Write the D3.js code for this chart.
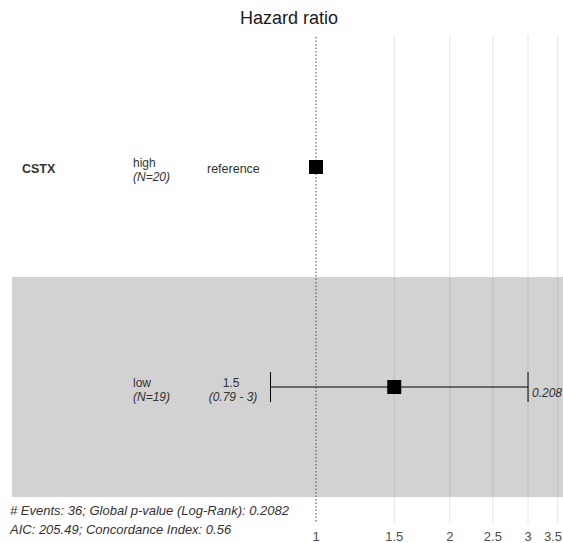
<!DOCTYPE html>
<html>
<head>
<meta charset="utf-8">
<script src="https://cdn.jsdelivr.net/npm/d3@7"></script>
<style>
  html, body { margin: 0; padding: 0; background: #fff; }
  svg { display: block; font-family: "Liberation Sans", Arial, sans-serif; }
</style>
</head>
<body>
<svg id="chart" width="563" height="543"></svg>
<script>
// Cox model forest plot: CSTX, low vs high
const variables = ["CSTX", ""];
const levels = ["high", "low"];
const counts = [20, 19];
const estimates = [1, 1.5];
const lowerCI = [null, 0.79];
const upperCI = [null, 3];
const estLabels = ["reference", "1.5"];
const ciLabels = ["", "(0.79 - 3)"];
const pLabels = ["", "0.208"];
const tickValues = [1, 1.5, 2, 2.5, 3, 3.5];
const footer = [
  "# Events: 36; Global p-value (Log-Rank): 0.2082",
  "AIC: 205.49; Concordance Index: 0.56"
];

const svg = d3.select("#chart");
const W = 563, H = 543;
const FS = 12;

// Log-scaled hazard-ratio axis
const x = d3.scaleLog().domain([1, Math.exp(1)]).range([316, 316 + 193]);
// Rows
const y = d3.scaleBand().domain(d3.range(levels.length)).range([57, 497]).paddingInner(0);

// Alternating row shading
svg.selectAll("rect.band")
  .data(d3.range(levels.length).filter(i => i % 2 === 1))
  .join("rect")
  .attr("class", "band")
  .attr("x", 12)
  .attr("width", W - 12)
  .attr("y", i => y(i))
  .attr("height", y.bandwidth())
  .attr("fill", "#d2d2d2");

// Vertical grid lines at the tick values (except the reference line)
svg.selectAll("line.grid")
  .data(tickValues.filter(v => v !== 1))
  .join("line")
  .attr("class", "grid")
  .attr("x1", d => x(d)).attr("x2", d => x(d))
  .attr("y1", 35).attr("y2", 523)
  .attr("stroke", "rgba(0,0,0,0.1)")
  .attr("stroke-width", 1);

// Dotted reference line at HR = 1
svg.append("line")
  .attr("x1", x(1)).attr("x2", x(1))
  .attr("y1", 37).attr("y2", 523)
  .attr("stroke", "#555")
  .attr("stroke-width", 1.1)
  .attr("stroke-dasharray", "1.5,2");

// Axis tick labels (kept inside the right edge)
svg.selectAll("text.tick")
  .data(tickValues)
  .join("text")
  .attr("class", "tick")
  .attr("x", d => x(d))
  .attr("y", 541)
  .attr("text-anchor", "middle")
  .attr("font-size", 13)
  .attr("fill", "#4d4d4d")
  .text(d => d)
  .each(function () {
    const b = this.getBBox();
    if (b.x + b.width > W - 1) {
      d3.select(this).attr("x", +d3.select(this).attr("x") - (b.x + b.width - (W - 1)));
    }
  });

// Title
svg.append("text")
  .attr("x", 289).attr("y", 24)
  .attr("text-anchor", "middle")
  .attr("font-size", 18)
  .attr("fill", "#1a1a1a")
  .text("Hazard ratio");

// Confidence intervals
const rows = d3.range(levels.length);
rows.filter(i => lowerCI[i] !== null).forEach(i => {
  const cy = y(i) + y.bandwidth() / 2;
  const g = svg.append("g");
  g.append("line")
    .attr("x1", x(lowerCI[i])).attr("x2", x(upperCI[i]))
    .attr("y1", cy).attr("y2", cy)
    .attr("stroke", "#000").attr("stroke-width", 1);
  [lowerCI[i], upperCI[i]].forEach(v => {
    g.append("line")
      .attr("x1", x(v)).attr("x2", x(v))
      .attr("y1", cy - 15).attr("y2", cy + 15)
      .attr("stroke", "#000").attr("stroke-width", 1);
  });
});

// Point estimates
svg.selectAll("rect.est")
  .data(rows)
  .join("rect")
  .attr("class", "est")
  .attr("x", i => x(estimates[i]) - 7)
  .attr("y", i => y(i) + y.bandwidth() / 2 - 7)
  .attr("width", 14).attr("height", 14)
  .attr("fill", "#000");

// Row text columns
rows.forEach(i => {
  const cy = y(i) + y.bandwidth() / 2;
  if (variables[i]) {
    svg.append("text")
      .attr("x", 22).attr("y", cy + 6)
      .attr("font-size", FS + 0.5).attr("font-weight", "bold")
      .attr("fill", "#333")
      .text(variables[i]);
  }
  svg.append("text")
    .attr("x", 133).attr("y", cy)
    .attr("font-size", FS).attr("fill", "#333")
    .text(levels[i]);
  svg.append("text")
    .attr("x", 133).attr("y", cy + 14)
    .attr("font-size", FS).attr("font-style", "italic").attr("fill", "#333")
    .text("(N=" + counts[i] + ")");
  if (ciLabels[i]) {
    svg.append("text")
      .attr("x", 231).attr("y", cy)
      .attr("text-anchor", "middle")
      .attr("font-size", FS).attr("fill", "#333")
      .text(estLabels[i]);
    svg.append("text")
      .attr("x", 233).attr("y", cy + 14)
      .attr("text-anchor", "middle")
      .attr("font-size", FS).attr("font-style", "italic").attr("fill", "#333")
      .text(ciLabels[i]);
  } else {
    svg.append("text")
      .attr("x", 207).attr("y", cy + 6)
      .attr("font-size", FS + 0.5).attr("fill", "#333")
      .text(estLabels[i]);
  }
  if (pLabels[i]) {
    svg.append("text")
      .attr("x", 532).attr("y", cy + 9.5)
      .attr("font-size", FS).attr("font-style", "italic").attr("fill", "#333")
      .text(pLabels[i]);
  }
});

// Model summary
svg.selectAll("text.footer")
  .data(footer)
  .join("text")
  .attr("class", "footer")
  .attr("x", 10)
  .attr("y", (d, i) => 515 + i * 19)
  .attr("font-size", 13)
  .attr("font-style", "italic")
  .attr("fill", "#333")
  .text(d => d);
</script>
</body>
</html>
